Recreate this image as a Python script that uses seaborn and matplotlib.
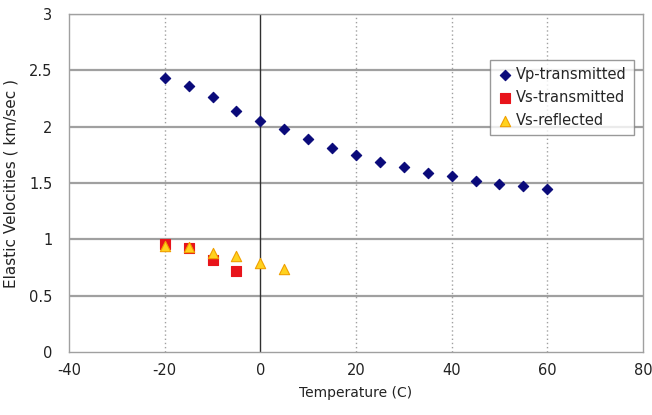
import numpy as np
import pandas as pd
import matplotlib
matplotlib.use("Agg")
import matplotlib.pyplot as plt
import seaborn as sns

# Data
vp_temp = [-20, -15, -10, -5, 0, 5, 10, 15, 20, 25, 30, 35, 40, 45, 50, 55, 60]
vp_vel = [2.43, 2.36, 2.26, 2.14, 2.05, 1.98, 1.89, 1.81, 1.75, 1.69, 1.64, 1.59, 1.56, 1.52, 1.49, 1.47, 1.45]
vst_temp = [-20, -15, -10, -5]
vst_vel = [0.96, 0.92, 0.82, 0.72]
vsr_temp = [-20, -15, -10, -5, 0, 5]
vsr_vel = [0.94, 0.93, 0.88, 0.85, 0.79, 0.74]
series_names = ["Vp-transmitted", "Vs-transmitted", "Vs-reflected"]
x_ticks = [-40, -20, 0, 20, 40, 60, 80]
y_ticks = [0, 0.5, 1, 1.5, 2, 2.5, 3]

df = pd.concat([
    pd.DataFrame({"T": vp_temp, "V": vp_vel, "series": series_names[0]}),
    pd.DataFrame({"T": vst_temp, "V": vst_vel, "series": series_names[1]}),
    pd.DataFrame({"T": vsr_temp, "V": vsr_vel, "series": series_names[2]}),
], ignore_index=True)

sns.set_style("white")
plt.rcParams["font.family"] = ["DejaVu Sans"]

fig = plt.figure(figsize=(6.52, 4.15), dpi=100)
ax = fig.add_axes([0.106, 0.152, 0.880, 0.814])

palette = {series_names[0]: "#0a0a7a", series_names[1]: "#e8141b", series_names[2]: "#ffd21f"}
markers = {series_names[0]: "D", series_names[1]: "s", series_names[2]: "^"}
edges = {series_names[0]: "#0a0a7a", series_names[1]: "#e8141b", series_names[2]: "#f0a000"}
sizes = {series_names[0]: 28, series_names[1]: 45, series_names[2]: 55}

for name in series_names:
    sub = df[df["series"] == name]
    sns.scatterplot(data=sub, x="T", y="V", ax=ax, color=palette[name],
                    marker=markers[name], s=sizes[name], edgecolor=edges[name],
                    linewidth=0.8, label=name, zorder=3)

ax.set_xlim(-40, 80)
ax.set_ylim(0, 3)
ax.set_xticks(x_ticks)
ax.set_yticks(y_ticks)
ax.set_xticklabels([str(t) for t in x_ticks])
ax.set_yticklabels(["0", "0.5", "1", "1.5", "2", "2.5", "3"])

# Grid lines
for y in y_ticks[1:]:
    ax.axhline(y, color="#a0a0a0", lw=1.6, zorder=1)
for x in [-20, 20, 40, 60]:
    ax.axvline(x, color="#a0a0a0", lw=1.0, ls=(0, (1, 2)), zorder=1)
ax.axvline(0, color="#303030", lw=1.0, zorder=1.5)

for s in ax.spines.values():
    s.set_color("#a0a0a0")
    s.set_linewidth(1.0)

ax.tick_params(axis="both", length=0, labelsize=10.5, colors="#222222")
ax.tick_params(axis="y", pad=12)
ax.tick_params(axis="x", pad=8)
ax.set_xlabel("Temperature (C)", fontsize=10, color="#222222", labelpad=6)
ax.set_ylabel("Elastic Velocities ( km/sec )", fontsize=11, color="#222222")
ax.yaxis.set_label_coords(-0.088, 0.5)

leg = ax.legend(loc="upper right", bbox_to_anchor=(0.985, 0.865), frameon=True,
                fancybox=False, edgecolor="#808080", fontsize=10.5, borderaxespad=0,
                handletextpad=0.3, borderpad=0.5, labelspacing=0.55, handlelength=1.0)
leg.get_frame().set_linewidth(1.0)

fig.savefig("out.png", dpi=100)
